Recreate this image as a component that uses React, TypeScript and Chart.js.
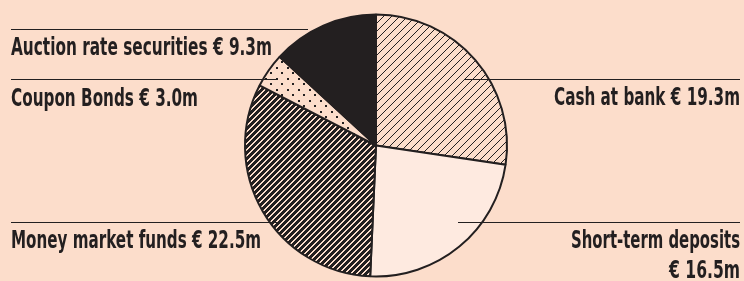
import React, { useEffect, useRef } from "react";
import { Chart, registerables } from "chart.js";

Chart.register(...registerables);

const categories = [
  "Cash at bank",
  "Short-term deposits",
  "Money market funds",
  "Coupon Bonds",
  "Auction rate securities",
];
const values = [19.3, 16.5, 22.5, 3.0, 9.3];
const currency = "€";
const unit = "m";

const INK = "#231F20";
const BG = "#FCDDCB";
const LIGHT = "#FEEAE0";
const FONT = "bold 24px 'Liberation Sans Narrow', 'DejaVu Sans Condensed', 'Roboto', sans-serif";

function fmt(v: number) {
  return `${currency} ${v.toFixed(1)}${unit}`;
}

function makePattern(kind: string): CanvasPattern | string {
  const c = document.createElement("canvas");
  const ctx = c.getContext("2d");
  if (!ctx) return INK;
  if (kind === "hatch") {
    const s = 8;
    c.width = s;
    c.height = s;
    ctx.fillStyle = BG;
    ctx.fillRect(0, 0, s, s);
    ctx.fillStyle = INK;
    for (let i = 0; i < s; i++) ctx.fillRect(i, s - 1 - i, 1, 1);
  } else if (kind === "stripes") {
    const s = 6;
    c.width = s;
    c.height = s;
    ctx.fillStyle = INK;
    ctx.fillRect(0, 0, s, s);
    ctx.fillStyle = BG;
    for (let i = 0; i < s; i++) {
      ctx.fillRect(i, s - 1 - i, 1, 1);
      ctx.fillRect(i, (s - i) % s, 1, 1);
    }
  } else if (kind === "dots") {
    const s = 11;
    c.width = s;
    c.height = s;
    ctx.fillStyle = BG;
    ctx.fillRect(0, 0, s, s);
    ctx.fillStyle = INK;
    ctx.fillRect(1, 1, 2, 2);
    ctx.fillRect(6, 6, 2, 2);
  }
  const p = ctx.createPattern(c, "repeat");
  return p || INK;
}

const bgPlugin = {
  id: "bgFill",
  beforeDraw(chart: any) {
    const { ctx, width, height } = chart;
    ctx.save();
    ctx.fillStyle = BG;
    ctx.fillRect(0, 0, width, height);
    ctx.restore();
  },
};

const labelPlugin = {
  id: "leaderLabels",
  afterDatasetsDraw(chart: any) {
    const ctx = chart.ctx as CanvasRenderingContext2D;
    ctx.save();
    ctx.strokeStyle = INK;
    ctx.lineWidth = 1.2;
    const lines: [number, number, number][] = [
      [464, 740, 79.5],
      [458, 740, 222.5],
      [11, 277, 222.5],
      [11, 277, 79.5],
      [11, 308, 29.5],
    ];
    lines.forEach(([x1, x2, y]) => {
      ctx.beginPath();
      ctx.moveTo(x1, y);
      ctx.lineTo(x2, y);
      ctx.stroke();
    });
    ctx.fillStyle = INK;
    ctx.font = FONT;
    ctx.textBaseline = "alphabetic";
    ctx.textAlign = "right";
    ctx.fillText(`${categories[0]} ${fmt(values[0])}`, 740, 105, 186);
    ctx.fillText(categories[1], 740, 248, 169);
    ctx.fillText(fmt(values[1]), 740, 278, 71);
    ctx.textAlign = "left";
    ctx.fillText(`${categories[2]} ${fmt(values[2])}`, 11, 248, 250);
    ctx.fillText(`${categories[3]} ${fmt(values[3])}`, 11, 106, 187);
    ctx.fillText(`${categories[4]} ${fmt(values[4])}`, 11, 55, 261);
    ctx.restore();
  },
};

export default function App() {
  const ref = useRef<HTMLCanvasElement | null>(null);
  useEffect(() => {
    if (!ref.current) return;
    const fills = [
      makePattern("hatch"),
      LIGHT,
      makePattern("stripes"),
      makePattern("dots"),
      INK,
    ];
    const chart = new Chart(ref.current, {
      type: "pie",
      data: {
        labels: categories,
        datasets: [
          {
            data: values,
            backgroundColor: fills as any,
            borderColor: INK,
            borderWidth: 2,
            radius: 131,
          } as any,
        ],
      },
      options: {
        responsive: false,
        animation: false,
        layout: { padding: { left: 8, top: 10, right: 0, bottom: 0 } },
        plugins: {
          legend: { display: false },
          tooltip: { enabled: false },
        },
        events: [],
      },
      plugins: [bgPlugin, labelPlugin],
    });
    return () => chart.destroy();
  }, []);
  return (
    <div style={{ position: "absolute", left: 0, top: 0, width: 744, height: 281 }}>
      <canvas ref={ref} width={744} height={281} />
    </div>
  );
}
